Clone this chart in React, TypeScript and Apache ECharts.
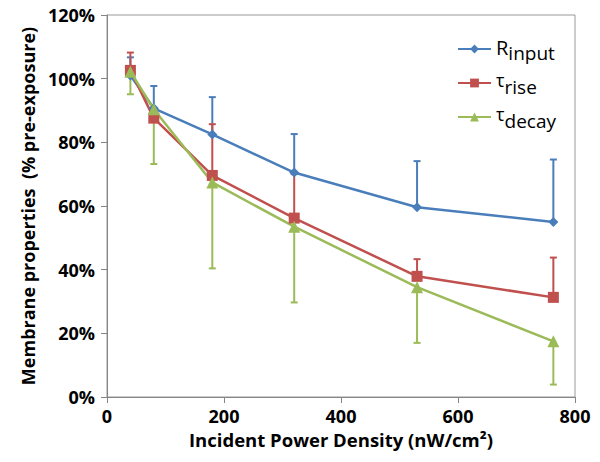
import React, { useEffect, useRef } from "react";
import * as echarts from "echarts";

const xValues = [40, 80, 180, 320, 530, 763];
const seriesNames = ["Rinput", "τrise", "τdecay"];
const rinput = [101, 90.7, 82.5, 70.5, 59.6, 55.0];
const rinputErrTop = [106.7, 97.7, 94.2, 82.6, 74.1, 74.6];
const trise = [102.6, 87.6, 69.6, 56.2, 37.9, 31.3];
const triseErrTop = [108.2, 89.5, 85.7, 70.0, 43.3, 43.8];
const tdecay = [102.2, 90.4, 67.4, 53.5, 34.5, 17.5];
const tdecayErrBottom = [95.1, 73.2, 40.4, 29.7, 17.0, 3.9];
const colors = ["#4A7EBB", "#C0504D", "#9BBB59"];

const FONT = "'Open Sans', Lato, sans-serif";

function errorSeries(name: string, vals: number[], ends: number[], color: string) {
  const data = xValues.map((x, i) => [x, vals[i], ends[i]]);
  return {
    type: "custom",
    name: name + "_err",
    z: 1,
    silent: true,
    data,
    renderItem: (params: any, api: any) => {
      const p1 = api.coord([api.value(0), api.value(1)]);
      const p2 = api.coord([api.value(0), api.value(2)]);
      const hw = 3.5;
      const style = { stroke: color, lineWidth: 2 };
      return {
        type: "group",
        children: [
          { type: "line", shape: { x1: p1[0], y1: p1[1], x2: p2[0], y2: p2[1] }, style },
          { type: "line", shape: { x1: p2[0] - hw, y1: p2[1], x2: p2[0] + hw, y2: p2[1] }, style },
        ],
      };
    },
  };
}

function lineSeries(name: string, vals: number[], color: string, symbol: string, size: number) {
  return {
    type: "line",
    name,
    z: 3,
    data: xValues.map((x, i) => [x, vals[i]]),
    symbol,
    symbolSize: size,
    showAllSymbol: true,
    lineStyle: { color, width: 2.5 },
    itemStyle: { color },
  };
}

export default function App() {
  const ref = useRef<HTMLDivElement>(null);
  useEffect(() => {
    if (!ref.current) return;
    const chart = echarts.init(ref.current, undefined, { renderer: "svg" });
    chart.setOption({
      animation: false,
      backgroundColor: "#fff",
      grid: {
        left: 107,
        right: 25,
        top: 15,
        bottom: 65,
        show: true,
        borderColor: "#999",
        borderWidth: 1,
      },
      legend: {
        orient: "vertical",
        left: 452,
        top: 32,
        itemWidth: 33,
        itemHeight: 11,
        itemGap: 9,
        data: seriesNames,
        formatter: (name: string) => {
          if (name === "Rinput") return "{big|R}{sub|input}";
          if (name === "τrise") return "{tau|τ}{sub|rise}";
          return "{tau|τ}{sub|decay}";
        },
        textStyle: {
          fontFamily: FONT,
          color: "#000",
          rich: {
            big: { fontSize: 20, fontFamily: FONT, color: "#000", padding: [0, 0, 4, 0] },
            tau: { fontSize: 18, fontFamily: FONT, color: "#000", padding: [0, 0, 6, 0] },
            sub: { fontSize: 19, fontFamily: FONT, color: "#000", padding: [7, 0, 0, 0] },
          },
        },
      },
      xAxis: {
        type: "value",
        min: 0,
        max: 800,
        interval: 200,
        name: "Incident Power Density (nW/cm²)",
        nameLocation: "middle",
        nameGap: 32,
        nameTextStyle: { fontFamily: FONT, fontWeight: "bold", fontSize: 18.5, color: "#000" },
        axisLine: { lineStyle: { color: "#868686", width: 1 } },
        axisTick: { show: true, length: 6, lineStyle: { color: "#868686" } },
        axisLabel: { fontFamily: FONT, fontWeight: "bold", fontSize: 18, color: "#000", margin: 10 },
        splitLine: { show: false },
      },
      yAxis: {
        type: "value",
        min: 0,
        max: 120,
        interval: 20,
        name: "Membrane properties  (% pre-exposure)",
        nameLocation: "middle",
        nameGap: 63,
        nameTextStyle: { fontFamily: FONT, fontWeight: "bold", fontSize: 18, color: "#000" },
        axisLine: { show: true, lineStyle: { color: "#868686", width: 1 } },
        axisTick: { show: true, length: 6, lineStyle: { color: "#868686" } },
        axisLabel: {
          fontFamily: FONT,
          fontWeight: "bold",
          fontSize: 18,
          color: "#000",
          margin: 12,
          formatter: "{value}%",
        },
        splitLine: { show: false },
      },
      series: [
        errorSeries(seriesNames[0], rinput, rinputErrTop, colors[0]),
        errorSeries(seriesNames[1], trise, triseErrTop, colors[1]),
        errorSeries(seriesNames[2], tdecay, tdecayErrBottom, colors[2]),
        lineSeries(seriesNames[0], rinput, colors[0], "diamond", 10),
        lineSeries(seriesNames[1], trise, colors[1], "rect", 11),
        lineSeries(seriesNames[2], tdecay, colors[2], "triangle", 12),
      ],
    });
    return () => chart.dispose();
  }, []);
  return (
    <div
      ref={ref}
      style={{ position: "absolute", left: 0, top: 0, width: 600, height: 462 }}
    />
  );
}
